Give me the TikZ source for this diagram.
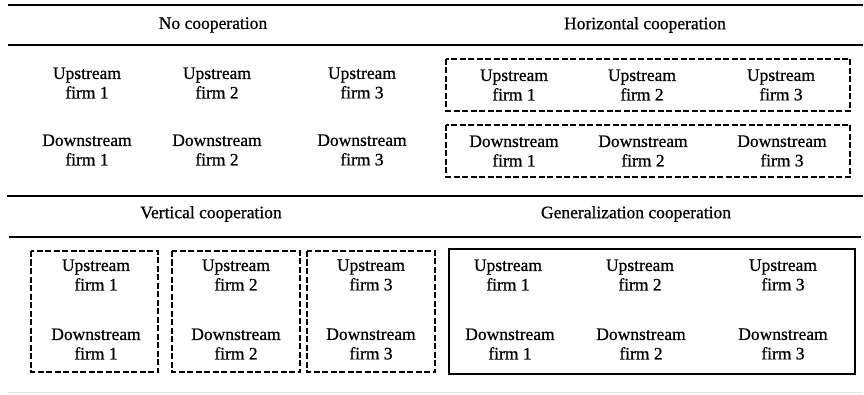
\documentclass[tikz,border=0pt]{standalone}
\usepackage{fontspec}
\setmainfont[FakeBold=0.7]{Liberation Serif}
\begin{document}
\begin{tikzpicture}[x=1pt,y=-1pt,
  firm/.style={align=center,font=\fontsize{17.5}{19.5}\selectfont,inner sep=0pt},
  head/.style={font=\fontsize{17.5}{19.5}\selectfont,inner sep=0pt},
  rule/.style={line width=2pt},
  dbox/.style={line width=1.8pt,dash pattern=on 6pt off 2.5pt},
  sbox/.style={line width=2.4pt}]
\useasboundingbox (0,0) rectangle (864,395);

% horizontal rules of the table
\draw[rule] (8,5) -- (863,5);
\draw[rule] (8,45) -- (863,45);
\draw[rule] (7,196) -- (863,196);
\draw[rule] (9,237) -- (861,237);
\draw[line width=1pt,black!10] (8,392) -- (862,392);

% headings
\node[head] (h1) at (213,25) {No cooperation};
\node[head] (h2) at (645,25) {Horizontal cooperation};
\node[head] (h3) at (211,214) {Vertical cooperation};
\node[head] (h4) at (636,214) {Generalization cooperation};

% no cooperation
\node[firm] (a1) at (87,83) {Upstream\\firm 1};
\node[firm] (a2) at (217,83) {Upstream\\firm 2};
\node[firm] (a3) at (362,83) {Upstream\\firm 3};
\node[firm] (b1) at (87,150) {Downstream\\firm 1};
\node[firm] (b2) at (217,150) {Downstream\\firm 2};
\node[firm] (b3) at (362,150) {Downstream\\firm 3};

% horizontal cooperation
\draw[dbox] (446,59) rectangle (850,111);
\draw[dbox] (446,125) rectangle (850,177);
\node[firm] (c1) at (514,85) {Upstream\\firm 1};
\node[firm] (c2) at (642,85) {Upstream\\firm 2};
\node[firm] (c3) at (781,85) {Upstream\\firm 3};
\node[firm] (d1) at (514,151) {Downstream\\firm 1};
\node[firm] (d2) at (643,151) {Downstream\\firm 2};
\node[firm] (d3) at (782,151) {Downstream\\firm 3};

% vertical cooperation
\draw[dbox] (31,251) rectangle (158,372);
\draw[dbox] (172,251) rectangle (300,372);
\draw[dbox] (307,251) rectangle (435,372);
\node[firm] (e1) at (96,275) {Upstream\\firm 1};
\node[firm] (e2) at (236,275) {Upstream\\firm 2};
\node[firm] (e3) at (371,275) {Upstream\\firm 3};
\node[firm] (f1) at (96,344) {Downstream\\firm 1};
\node[firm] (f2) at (236,344) {Downstream\\firm 2};
\node[firm] (f3) at (371,344) {Downstream\\firm 3};

% generalization cooperation
\draw[sbox] (449,249) rectangle (855,374);
\node[firm] (g1) at (508,275) {Upstream\\firm 1};
\node[firm] (g2) at (640,275) {Upstream\\firm 2};
\node[firm] (g3) at (783,275) {Upstream\\firm 3};
\node[firm] (k1) at (510,344) {Downstream\\firm 1};
\node[firm] (k2) at (641,344) {Downstream\\firm 2};
\node[firm] (k3) at (783,344) {Downstream\\firm 3};
\end{tikzpicture}
\end{document}
